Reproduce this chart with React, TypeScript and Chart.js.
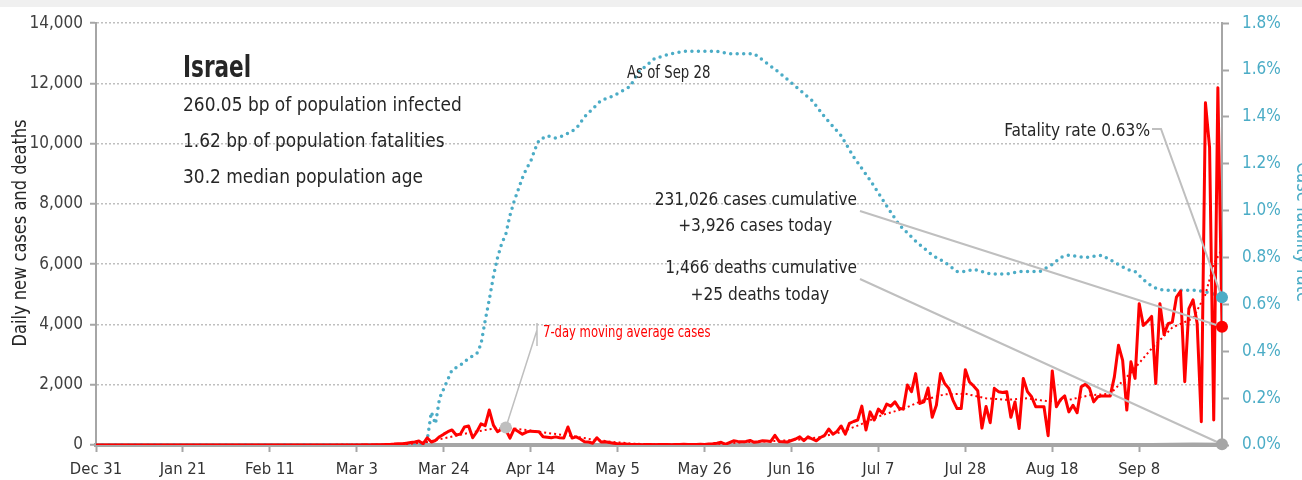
import React, { useEffect, useRef } from "react";
import { Chart, registerables } from "chart.js";

Chart.register(...registerables);

const FONT = "'DejaVu Sans Condensed', 'DejaVu Sans', sans-serif";

// x axis: days since Dec 31, 2019 (day 272 = Sep 28, 2020)
const xTickDays = [0, 21, 42, 63, 84, 105, 126, 147, 168, 189, 210, 231, 252];
const xTickLabels = ["Dec 31", "Jan 21", "Feb 11", "Mar 3", "Mar 24", "Apr 14", "May 5", "May 26", "Jun 16", "Jul 7", "Jul 28", "Aug 18", "Sep 8"];
const lastDay = 272;
const leftTicks = [0, 2000, 4000, 6000, 8000, 10000, 12000, 14000];
const rightTicks = [0, 0.2, 0.4, 0.6, 0.8, 1.0, 1.2, 1.4, 1.6, 1.8];

// Daily new cases, one value per day from day 0 (Dec 31) to day 272 (Sep 28)
const dailyCases = [
  // days 0-51
  0, 0, 0, 0, 0, 0, 0, 0, 0, 0, 0, 0, 0, 0, 0, 0, 0, 0, 0, 0, 0, 0, 0, 0, 0, 0,
  0, 0, 0, 0, 0, 0, 0, 0, 0, 0, 0, 0, 0, 0, 0, 0, 0, 0, 0, 0, 0, 0, 0, 0, 0, 0,
  // days 52-70
  1, 0, 0, 0, 0, 1, 0, 0, 1, 0, 3, 0, 2, 5, 3, 6, 10, 12, 15,
  // days 71-127
  20, 30, 45, 40, 60, 80, 100, 130, 40, 240, 100, 150, 275, 360, 440, 500, 330, 360, 600, 630,
  240, 440, 700, 640, 1160, 660, 440, 530, 500, 230, 530, 450, 360, 430, 460, 450, 440, 275, 260, 240,
  270, 240, 230, 600, 230, 270, 200, 110, 100, 60, 240, 100, 110, 80, 60, 40, 30,
  // days 128-150
  30, 20, 15, 20, 10, 15, 20, 10, 15, 20, 15, 10, 20, 15, 25, 20, 15, 20, 25, 20, 30, 40, 60,
  // days 151-190
  90, 20, 80, 140, 120, 110, 115, 150, 90, 110, 140, 130, 120, 320, 120, 110, 100, 150, 200, 270,
  140, 270, 200, 140, 250, 320, 530, 360, 450, 630, 360, 720, 780, 830, 1290, 500, 1100, 830, 1190, 1060,
  // days 191-230
  1360, 1290, 1430, 1220, 1190, 1990, 1770, 2370, 1380, 1430, 1890, 920, 1320, 2370, 2040, 1880, 1490, 1210, 1210, 2500,
  2090, 1960, 1800, 560, 1280, 740, 1880, 1770, 1740, 1770, 920, 1430, 550, 2210, 1770, 1600, 1270, 1270, 1270, 310,
  // days 231-272
  2460, 1270, 1510, 1630, 1100, 1320, 1070, 1930, 2020, 1880, 1430, 1600, 1630, 1630, 1630, 2260, 3310, 2810, 1160, 2760,
  2210, 4690, 3970, 4100, 4270, 2040, 4690, 3670, 4030, 4080, 4910, 5110, 2100, 4530, 4820, 4030, 770, 11360, 9870, 830,
  11860, 3926,
];

// 7-day moving average of cases (read at selected days)
const avgDays = [0, 70, 75, 80, 85, 90, 95, 99, 105, 110, 115, 120, 125, 130, 140, 150, 155, 160, 165, 170, 175, 180, 185, 190, 195, 200, 205, 210, 215, 220, 225, 230, 235, 240, 245, 250, 255, 260, 265, 268, 270, 272];
const avgValues = [0, 5, 30, 100, 250, 400, 520, 580, 480, 380, 300, 180, 100, 40, 15, 30, 80, 110, 140, 180, 260, 430, 700, 1000, 1200, 1500, 1680, 1700, 1550, 1500, 1550, 1450, 1500, 1650, 1700, 2400, 3200, 3900, 4200, 5000, 6000, 6500];

// Case fatality rate, % (read at selected days)
const cfrDays = [0, 79, 80, 81, 82, 83, 85, 86, 88, 90, 92, 93, 94, 95, 96, 97, 98, 99, 100, 101, 102, 103, 104, 105, 106, 107, 109, 111, 113, 116, 118, 122, 125, 129, 131, 135, 139, 142, 146, 150, 153, 157, 159, 162, 165, 169, 173, 176, 180, 183, 187, 191, 194, 198, 202, 205, 208, 210, 212, 216, 220, 223, 228, 231, 233, 235, 239, 243, 246, 249, 251, 254, 256, 258, 262, 266, 269, 272];
const cfrValues = [0, 0, 0.02, 0.14, 0.09, 0.2, 0.28, 0.32, 0.34, 0.37, 0.39, 0.43, 0.53, 0.62, 0.72, 0.8, 0.86, 0.9, 0.98, 1.04, 1.09, 1.14, 1.18, 1.21, 1.26, 1.3, 1.32, 1.31, 1.32, 1.35, 1.4, 1.47, 1.49, 1.53, 1.59, 1.65, 1.67, 1.68, 1.68, 1.68, 1.67, 1.67, 1.67, 1.63, 1.59, 1.53, 1.47, 1.4, 1.32, 1.23, 1.13, 1.02, 0.94, 0.87, 0.81, 0.78, 0.74, 0.74, 0.75, 0.73, 0.73, 0.74, 0.74, 0.77, 0.8, 0.81, 0.8, 0.81, 0.78, 0.75, 0.74, 0.69, 0.67, 0.66, 0.66, 0.66, 0.65, 0.63];

// Daily deaths (read at selected days)
const deathDays = [0, 80, 90, 100, 110, 120, 130, 150, 180, 200, 220, 240, 255, 265, 272];
const deathValues = [0, 3, 10, 12, 8, 5, 2, 0, 2, 6, 10, 12, 20, 35, 25];

const avgMarkerDay = 99;

const titleText = "Israel";
const infoLines = ["260.05 bp of population infected", "1.62 bp of population fatalities", "30.2 median population age"];
const asOfText = "As of Sep 28";
const fatalityText = "Fatality rate 0.63%";
const casesLines = ["231,026 cases cumulative", "+3,926 cases today"];
const deathsLines = ["1,466 deaths cumulative", "+25 deaths today"];
const avgLabel = "7-day moving average cases";
const leftTitle = "Daily new cases and deaths";
const rightTitle = "Case fatality rate";

const RED = "#ff0000";
const BLUE = "#4bacc6";
const AXIS = "#a6a6a6";
const LEADER = "#bfbfbf";
const TEXT = "#262626";

const pairs = (xs: number[], ys: number[]) => xs.map((x, i) => ({ x, y: ys[i] }));

type TextOpts = { bold?: boolean; align?: CanvasTextAlign; baseline?: CanvasTextBaseline; sx?: number; color?: string; rot?: number };

const drawText = (ctx: CanvasRenderingContext2D, text: string, x: number, y: number, size: number, o: TextOpts = {}) => {
  ctx.save();
  ctx.font = `${o.bold ? "bold " : ""}${size}px ${FONT}`;
  ctx.fillStyle = o.color ?? TEXT;
  ctx.textAlign = o.align ?? "left";
  ctx.textBaseline = o.baseline ?? "alphabetic";
  ctx.translate(x, y);
  if (o.rot) ctx.rotate(o.rot);
  ctx.scale(o.sx ?? 1, 1);
  ctx.fillText(text, 0, 0);
  ctx.restore();
};

const annotations = {
  id: "annotations",
  afterDraw(chart: any) {
    const { ctx, scales } = chart;
    const x = scales.x, y = scales.y, y1 = scales.y1;
    const xEnd = x.getPixelForValue(lastDay);
    const cfrEnd = y1.getPixelForValue(cfrValues[cfrValues.length - 1]);
    const caseEnd = y.getPixelForValue(dailyCases[dailyCases.length - 1]);
    const deathEnd = y.getPixelForValue(deathValues[deathValues.length - 1]);
    const avgIdx = avgDays.indexOf(avgMarkerDay);
    const avgX = x.getPixelForValue(avgMarkerDay);
    const avgY = y.getPixelForValue(avgValues[avgIdx]);

    ctx.save();
    // leader lines
    ctx.strokeStyle = LEADER;
    ctx.lineWidth = 2;
    ctx.beginPath();
    ctx.moveTo(1152, 129); ctx.lineTo(1161, 129); ctx.lineTo(xEnd, cfrEnd);
    ctx.moveTo(860, 211); ctx.lineTo(xEnd, caseEnd);
    ctx.moveTo(860, 279); ctx.lineTo(xEnd, deathEnd);
    ctx.stroke();
    ctx.lineWidth = 1.5;
    ctx.beginPath();
    ctx.moveTo(537, 323); ctx.lineTo(537, 346);
    ctx.moveTo(537, 330); ctx.lineTo(avgX, avgY);
    ctx.stroke();

    // markers
    const dot = (px: number, py: number, c: string, r: number) => {
      ctx.fillStyle = c;
      ctx.beginPath();
      ctx.arc(px, py, r, 0, Math.PI * 2);
      ctx.fill();
    };
    dot(avgX, avgY, LEADER, 6);
    dot(xEnd, deathEnd, "#a6a6a6", 6);
    dot(xEnd, cfrEnd, BLUE, 6);
    dot(xEnd, caseEnd, RED, 6);
    ctx.restore();

    // texts
    drawText(ctx, titleText, 183, 77, 30, { bold: true, sx: 0.8 });
    infoLines.forEach((t, i) => drawText(ctx, t, 183, 111 + i * 36, 20, { sx: 0.945 }));
    drawText(ctx, asOfText, 627, 78, 18, { sx: 0.82 });

    const mid = { baseline: "middle" as CanvasTextBaseline, align: "right" as CanvasTextAlign, sx: 0.95 };
    drawText(ctx, fatalityText, 1150, 131, 18, mid);
    drawText(ctx, casesLines[0], 857, 200, 18, mid);
    drawText(ctx, casesLines[1], 832, 226, 18, mid);
    drawText(ctx, deathsLines[0], 857, 268, 18, mid);
    drawText(ctx, deathsLines[1], 829, 295, 18, mid);

    drawText(ctx, avgLabel, 543, 333, 15, { baseline: "middle", color: RED, sx: 0.86 });

    // axis titles
    drawText(ctx, leftTitle, 21, 233, 19, { align: "center", baseline: "middle", rot: -Math.PI / 2, sx: 0.95 });
    drawText(ctx, rightTitle, 1302, 232, 19, { align: "center", baseline: "middle", rot: Math.PI / 2, sx: 0.95, color: BLUE });
  },
};

export default function App() {
  const ref = useRef<HTMLCanvasElement>(null);
  useEffect(() => {
    if (!ref.current) return;
    const chart = new Chart(ref.current, {
      type: "line",
      data: {
        datasets: [
          {
            label: "Daily new cases",
            data: pairs(dailyCases.map((_, i) => i), dailyCases),
            yAxisID: "y",
            borderColor: RED,
            borderWidth: 3,
            pointRadius: 0,
            borderJoinStyle: "round",
          },
          {
            label: "7-day moving average cases",
            data: pairs(avgDays, avgValues),
            yAxisID: "y",
            borderColor: RED,
            borderWidth: 2,
            borderDash: [2, 3],
            pointRadius: 0,
          },
          {
            label: "Case fatality rate",
            data: pairs(cfrDays, cfrValues),
            yAxisID: "y1",
            borderColor: BLUE,
            borderWidth: 3.5,
            borderDash: [0, 6.5],
            borderCapStyle: "round",
            pointRadius: 0,
          },
          {
            label: "Daily deaths",
            data: pairs(deathDays, deathValues),
            yAxisID: "y",
            borderColor: AXIS,
            borderWidth: 3,
            pointRadius: 0,
          },
        ],
      },
      options: {
        responsive: false,
        animation: false,
        events: [],
        layout: { padding: { top: 22, left: 0, right: 0, bottom: 0 } },
        plugins: { legend: { display: false }, tooltip: { enabled: false } },
        scales: {
          x: {
            type: "linear",
            min: 0,
            max: lastDay,
            afterBuildTicks: (s: any) => { s.ticks = xTickDays.map((v) => ({ value: v })); },
            afterFit: (s: any) => { s.height = 35; },
            ticks: {
              autoSkip: false,
              maxRotation: 0,
              padding: 8,
              color: "#333333",
              font: { family: FONT, size: 16.5 },
              callback: (v: any) => xTickLabels[xTickDays.indexOf(Number(v))] ?? "",
            },
            grid: { drawOnChartArea: false, drawTicks: true, tickLength: 7, tickColor: AXIS, tickWidth: 2 },
            border: { color: AXIS, width: 4 },
          },
          y: {
            position: "left",
            min: 0,
            max: 14000,
            afterBuildTicks: (s: any) => { s.ticks = leftTicks.map((v) => ({ value: v })); },
            afterFit: (s: any) => { s.width = 96; },
            ticks: {
              padding: 7,
              color: "#404040",
              font: { family: FONT, size: 17 },
              callback: (v: any) => Number(v).toLocaleString("en-US"),
            },
            grid: { color: "#bfbfbf", lineWidth: 1.5, drawTicks: true, tickLength: 6, tickColor: AXIS, tickWidth: 2, tickBorderDash: [] },
            border: { color: AXIS, width: 2, dash: [2, 2] },
          },
          y1: {
            position: "right",
            min: 0,
            max: 1.8,
            afterBuildTicks: (s: any) => { s.ticks = rightTicks.map((v) => ({ value: v })); },
            afterFit: (s: any) => { s.width = 80; },
            ticks: {
              padding: 13,
              color: BLUE,
              font: { family: FONT, size: 17 },
              callback: (v: any) => Number(v).toFixed(1) + "%",
            },
            grid: { drawOnChartArea: false, drawTicks: true, tickLength: 7, tickColor: AXIS, tickWidth: 2 },
            border: { color: AXIS, width: 2 },
          },
        },
      },
      plugins: [annotations],
    } as any);
    return () => chart.destroy();
  }, []);

  return (
    <div style={{ position: "fixed", left: 0, top: 0, width: 1302, height: 480, background: "#ffffff" }}>
      <canvas ref={ref} width={1302} height={480} style={{ display: "block" }} />
      <div style={{ position: "absolute", left: 0, top: 0, width: 1302, height: 7, background: "#f0f0f0" }} />
    </div>
  );
}
